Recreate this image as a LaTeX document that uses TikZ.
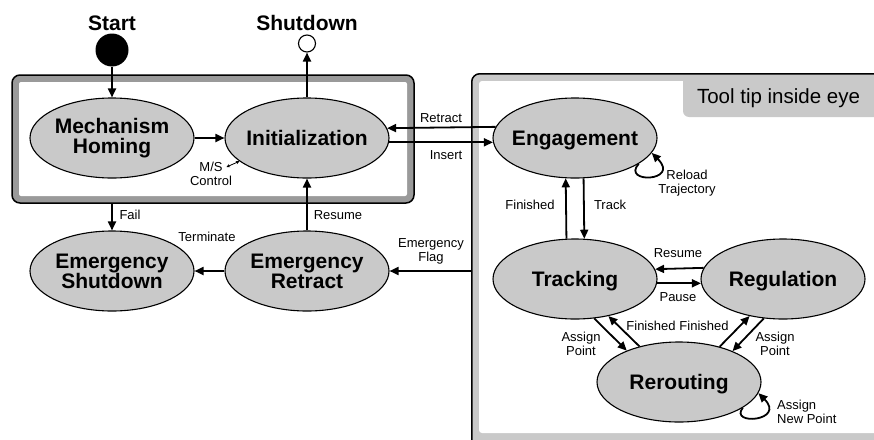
\documentclass[tikz,border=0pt]{standalone}
\usepackage{fontspec}
\setmainfont{Liberation Sans}
\usetikzlibrary{arrows.meta,shapes.geometric}

\definecolor{stategray}{HTML}{C9C9C9}
\definecolor{banddark}{HTML}{9A9A9A}
\definecolor{bandlight}{HTML}{C9C9C9}

% zero-width line so the ellipse size is set only by its minimum size
\newcommand\ctrword[1]{\makebox[0pt]{#1}}

\begin{document}
\begin{tikzpicture}[x=1pt,y=-1pt,
  state/.style={ellipse, draw=black, line width=1.1pt, fill=stategray,
    minimum width=164pt, minimum height=80pt, inner sep=0pt, align=center,
    font=\fontsize{21}{20}\selectfont\bfseries},
  oneline/.style={text depth=0pt},
  title/.style={font=\fontsize{21}{24}\selectfont\bfseries, inner sep=0pt, anchor=base},
  lbl/.style={font=\fontsize{13}{14}\selectfont, inner sep=0pt, text height=9.4pt, text depth=0pt},
  lbltwo/.style={font=\fontsize{13}{14}\selectfont, inner sep=0pt, align=center},
  flow/.style={line width=1.8pt, -{Triangle[length=9pt,width=8pt]}},
  tinyflow/.style={line width=0.8pt, {Stealth[length=3.5pt,width=3.5pt]}-{Stealth[length=3.5pt,width=3.5pt]}},
  frame/.style={draw=black, line width=1.5pt, rounded corners=8pt, inner sep=0pt},
]
\path[use as bounding box, clip] (0,0) rectangle (874,439);

% outer groups
\node[frame, fill=banddark, minimum width=402pt, minimum height=128pt] (hold) at (213,139) {};
\fill[white, rounded corners=2pt] (19,82) rectangle (407,196);

\node[frame, fill=bandlight, minimum width=430pt, minimum height=390pt, anchor=north west] (eye) at (471,73) {};
\fill[white, rounded corners=3pt] (479,81) rectangle (890,433);
\fill[bandlight, rounded corners=6pt] (683,75) rectangle (890,117);
\node[font=\fontsize{20.5}{24}\selectfont, inner sep=0pt, anchor=base] (tabtext) at (778.5,103) {Tool tip inside eye};

% initial and final pseudo-states
\node[circle, fill=black, minimum size=33pt, inner sep=0pt] (start) at (112,50) {};
\node[circle, draw=black, line width=1.1pt, fill=white, minimum size=17pt, inner sep=0pt] (stop) at (307,43.5) {};
\node[title] (starttext) at (112,30) {Start};
\node[title] (stoptext) at (307,30) {Shutdown};

% states
\node[state] (mh) at (112,138) {\ctrword{Mechanism}\\\ctrword{Homing}};
\node[state, oneline] (init) at (307,138) {\ctrword{Initialization}};
\node[state, oneline] (eng) at (575,138) {\ctrword{Engagement}};
\node[state] (es) at (112,271) {\ctrword{Emergency}\\\ctrword{Shutdown}};
\node[state] (er) at (307,271) {\ctrword{Emergency}\\\ctrword{Retract}};
\node[state, oneline] (trk) at (575,279) {\ctrword{Tracking}};
\node[state, oneline] (reg) at (783,279) {\ctrword{Regulation}};
\node[state, oneline] (rer) at (679,382) {\ctrword{Rerouting}};

% transitions
\draw[flow] (start) -- (mh);
\draw[flow] (init) -- (stop);
\draw[flow] (mh) -- (init);
\draw[flow] (eng.172.82) -- (init.7.18);
\draw[flow] (init.-3.52) -- (eng.183.52);
\draw[flow] (hold.south -| es.north) -- (es.north);
\draw[flow] (er) -- (init);
\draw[flow] (er) -- (es);
\draw[flow] (eye.west |- er.east) -- (er.east);
\draw[flow] (trk.102.77) -- (eng.257.23);
\draw[flow] (eng.282.77) -- (trk.77.23);
\draw[flow] (eng.-22) .. controls +(-18,20) and +(29,29) .. (eng.-11);
\draw[flow] (reg.172.82) -- (trk.7.18);
\draw[flow] (trk.-3.52) -- (reg.183.52);
\draw[flow] (trk.-64.6) -- (rer.149.5);
\draw[flow] (rer.138.8) -- (trk.-48.3);
\draw[flow] (rer.41.2) -- (reg.228.3);
\draw[flow] (reg.244.6) -- (rer.30.5);
\draw[flow] (rer.-22) .. controls +(-14,18) and +(28,28) .. (rer.-8);

% master/slave control hint
\coordinate (msend) at (226.5,167);
\draw[tinyflow] (msend) -- (init.199.4);
\node[lbltwo] (ms) at (211,173.5) {M/S\\Control};

% transition labels
\node[lbl] (lretract) at (441,118) {Retract};
\node[lbl] (linsert) at (446,155) {Insert};
\node[lbl] (lfail) at (130,215) {Fail};
\node[lbl] (lresume) at (338,215) {Resume};
\node[lbl] (lterm) at (207,237) {Terminate};
\node[lbltwo] (lflag) at (431,251.3) {Emergency\\Flag};
\node[lbl] (lfin) at (530,205) {Finished};
\node[lbl] (ltrack) at (610,205) {Track};
\node[lbltwo] (lreload) at (687,183.3) {Reload\\Trajectory};
\node[lbl] (lresume2) at (678,253) {Resume};
\node[lbl] (lpause) at (678,297) {Pause};
\node[lbltwo] (lassl) at (581,343.5) {Assign\\Point};
\node[lbltwo] (lassr) at (775,343.5) {Assign\\Point};
\node[lbl] (lfinl) at (651,326) {Finished};
\node[lbl] (lfinr) at (704,326) {Finished};
\node[lbltwo, align=left, anchor=west] (lnew) at (777,411.5) {Assign\\New Point};
\end{tikzpicture}
\end{document}
